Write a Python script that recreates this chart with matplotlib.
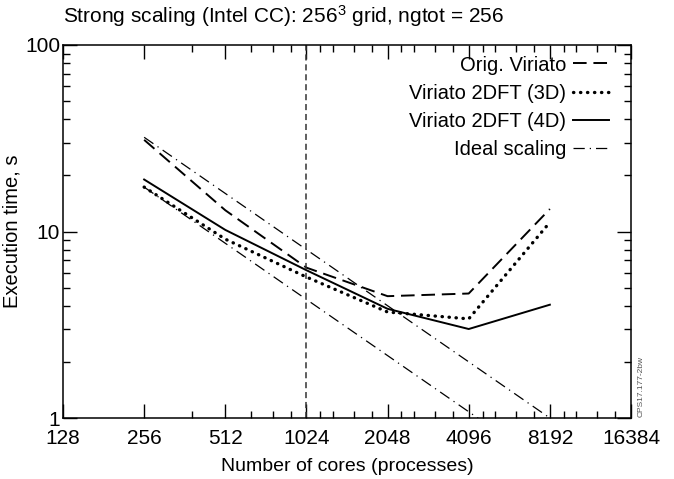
import matplotlib
matplotlib.use("Agg")
import matplotlib.pyplot as plt
from matplotlib.ticker import FixedLocator, NullFormatter

plt.rcParams["font.family"] = ["Liberation Sans", "DejaVu Sans"]
plt.rcParams["mathtext.default"] = "regular"

# Data
cores = [256, 512, 1024, 2048, 4096, 8192]
orig_viriato = [31.0, 13.0, 6.4, 4.5, 4.65, 13.2]
viriato_3d = [17.3, 9.1, 5.7, 3.7, 3.4, 11.2]
viriato_4d = [19.0, 10.2, 6.2, 3.85, 3.0, 4.05]

# Ideal scaling reference lines (end points)
ideal_x = [256, 8192]
ideal_hi = [32.0, 1.0]
ideal_lo = [17.3, 0.54]

x_major = [128, 256, 512, 1024, 2048, 4096, 8192, 16384]
x_minor = [384, 640, 768, 896, 1152, 1280, 1536, 1792, 2304, 2560, 3072, 3584,
           4608, 5120, 6144, 7168, 9216, 10240, 12288, 14336]

fig = plt.figure(figsize=(6.74, 4.79), dpi=100)
ax = fig.add_axes([63 / 674, 1 - 418 / 479, (631 - 63) / 674, (418 - 45) / 479])

ax.plot(cores, orig_viriato, color="black", lw=1.4, linestyle=(0, (7, 3.5)),
        label="Orig. Viriato")
ax.plot(cores, viriato_3d, color="black", lw=2.4, linestyle=(0, (0.1, 2.0)),
        dash_capstyle="round", label="Viriato 2DFT (3D)")
ax.plot(cores, viriato_4d, color="black", lw=1.4, label="Viriato 2DFT (4D)")
ax.plot(ideal_x, ideal_hi, color="black", lw=0.9,
        linestyle=(0, (9, 4, 1, 4)), label="Ideal scaling")
ax.plot(ideal_x, ideal_lo, color="black", lw=0.9,
        linestyle=(0, (9, 4, 1, 4)))

ax.axvline(1024, color="#333333", lw=1.1, linestyle=(0, (4, 2.5)))

ax.set_xscale("log", base=2)
ax.set_yscale("log")
ax.set_xlim(128, 16384)
ax.set_ylim(1, 100)

ax.xaxis.set_major_locator(FixedLocator(x_major))
ax.xaxis.set_minor_locator(FixedLocator(x_minor))
ax.set_xticklabels([str(v) for v in x_major])
ax.xaxis.set_minor_formatter(NullFormatter())
ax.set_yticks([1, 10, 100])
ax.set_yticklabels(["1", "10", "100"])
ax.yaxis.set_minor_formatter(NullFormatter())

ax.tick_params(which="both", direction="in", top=True, right=True,
               labelsize=15, width=1.0)
ax.tick_params(axis="x", pad=8)
ax.tick_params(axis="y", pad=2)
ax.tick_params(which="major", length=10)
ax.tick_params(which="minor", length=5)
for s in ax.spines.values():
    s.set_linewidth(1.1)

ax.set_xlabel("Number of cores (processes)", fontsize=14, labelpad=7)
ax.set_ylabel("Execution time, s", fontsize=14.5)
ax.yaxis.set_label_coords((22 - 63) / 568, 0.5)
ax.set_title("Strong scaling (Intel CC): 256$^3$ grid, ngtot = 256",
             fontsize=15, loc="left", pad=16)

ax.legend(loc="upper right", frameon=False, markerfirst=False, fontsize=14.5,
          handlelength=1.8, handletextpad=0.35, labelspacing=0.45,
          borderaxespad=0.4, bbox_to_anchor=(0.99, 1.015))

fig.text(641 / 674, 1 - 417 / 479, "CPS17.177-2bw", rotation=90, fontsize=6,
         color="#555555", ha="center", va="bottom")

fig.savefig("out.png", dpi=100)
